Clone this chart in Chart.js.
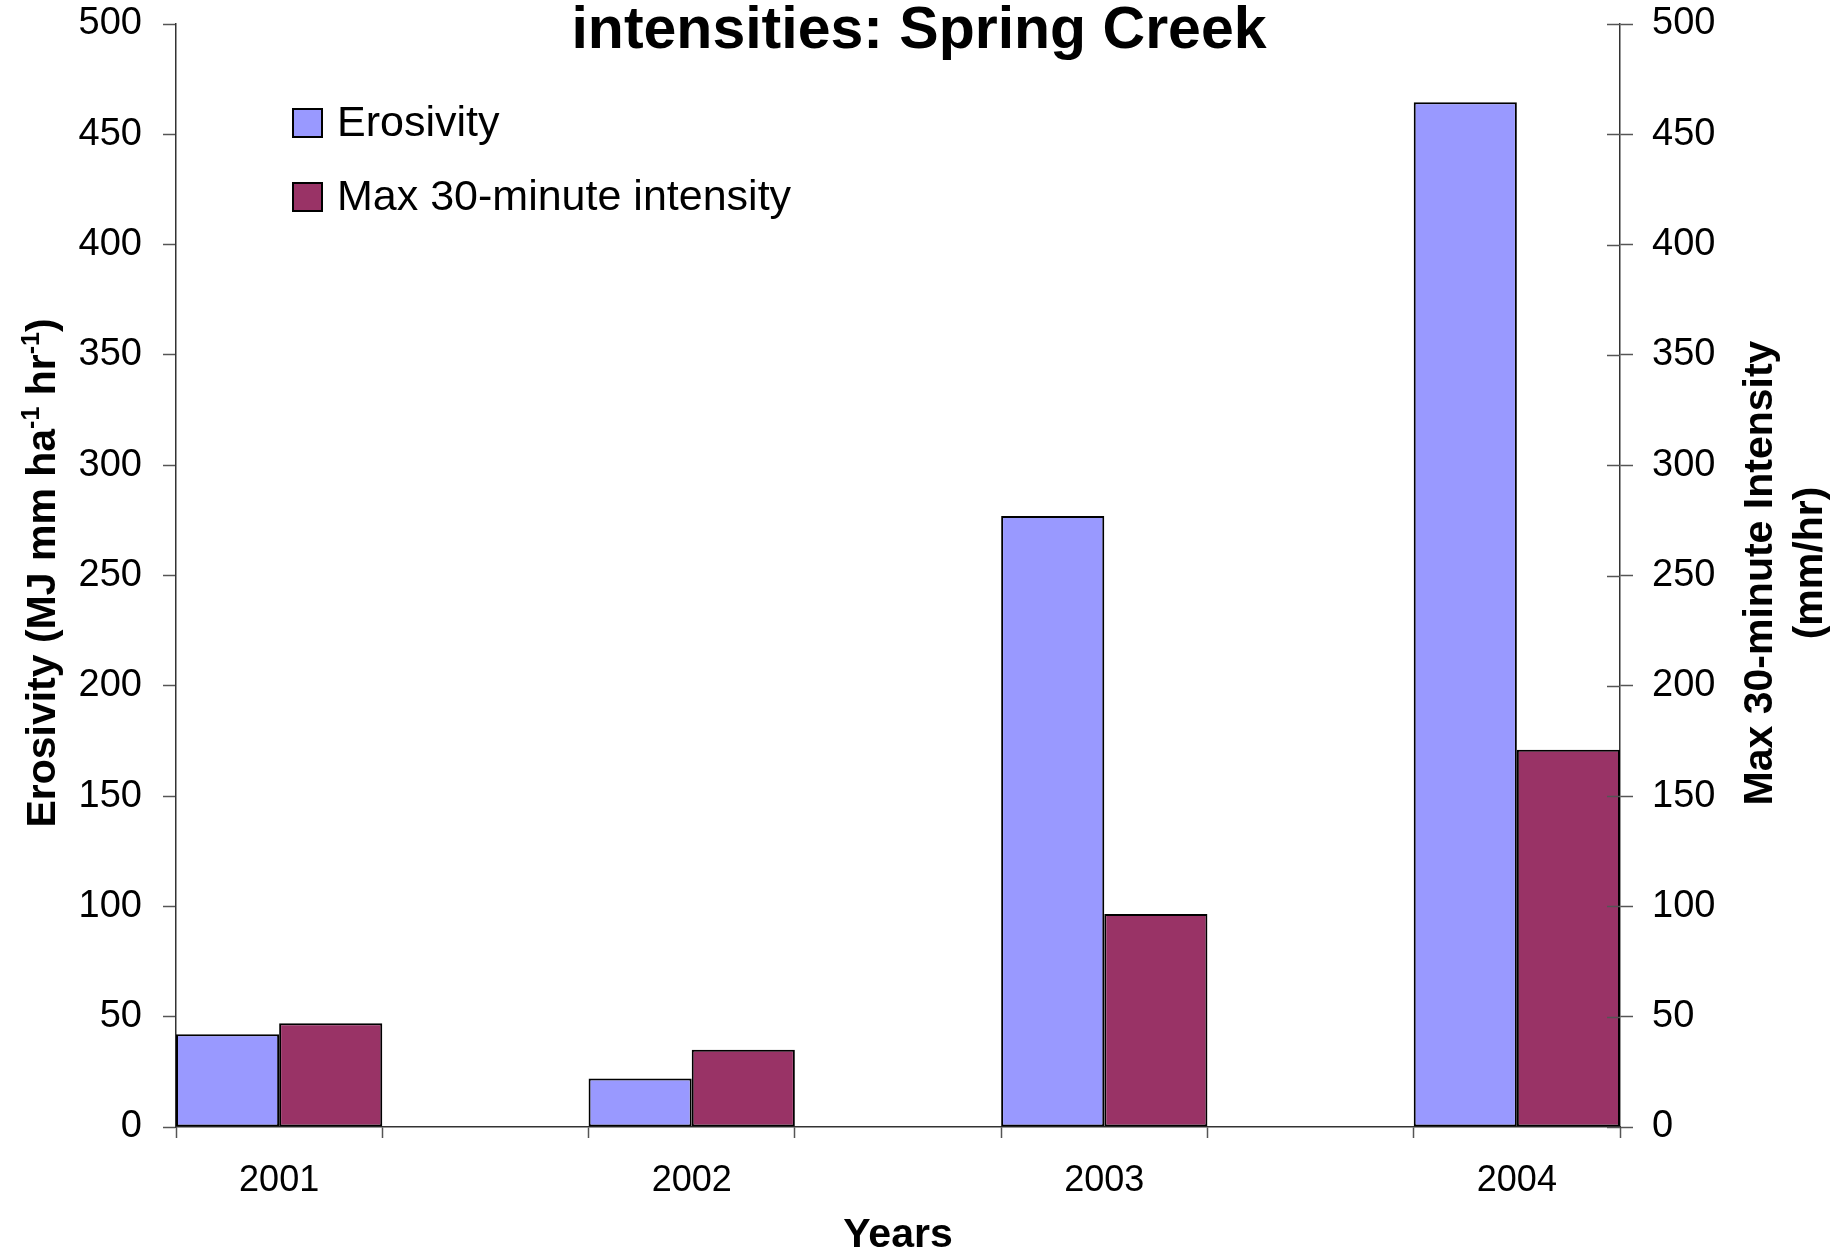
<!DOCTYPE html>
<html>
<head>
<meta charset="utf-8">
<title>Erosivity and max 30-minute intensities: Spring Creek</title>
<script src="https://cdn.jsdelivr.net/npm/chart.js@4.4.1/dist/chart.umd.min.js"></script>
<style>
    html, body { margin: 0; padding: 0; background: #ffffff; }
    #wrap { width: 1835px; height: 1252px; }
</style>
</head>
<body>
<div id="wrap"><canvas id="chart" width="1835" height="1252"></canvas></div>
<script>
// --- data ---
const years = [2001, 2002, 2003, 2004];
const erosivity = [42, 22, 277, 464.5];
const maxIntensity = [47, 35, 96.5, 171];
const yTickValues = [0, 50, 100, 150, 200, 250, 300, 350, 400, 450, 500];

const seriesLabels = ['Erosivity', 'Max 30-minute intensity'];
const seriesColors = ['#9999ff', '#993366'];

const FONT = "'Liberation Sans', Arial, Helvetica, sans-serif";
const TICK_COLOR = '#555555';
const AXIS_COLOR = '#333333';

// tick marks sit on the bar edges (year +/- a quarter), labels on the years
const xTickValues = [];
years.forEach(y => { xTickValues.push(y - 0.25, y, y + 0.25); });

function toPoints(values) {
    return years.map((y, i) => ({ x: y, y: values[i] }));
}

// left title has superscripts, so it is drawn piece by piece
function drawRotatedRich(ctx, parts, x, y, size) {
    const mainFont = `bold ${size}px ${FONT}`;
    const supFont = `bold ${Math.round(size * 0.6)}px ${FONT}`;
    ctx.save();
    ctx.translate(x, y);
    ctx.rotate(-Math.PI / 2);
    ctx.textBaseline = 'alphabetic';
    ctx.textAlign = 'left';
    let total = 0;
    parts.forEach(p => {
        ctx.font = p.sup ? supFont : mainFont;
        p.w = ctx.measureText(p.text).width;
        total += p.w;
    });
    let cx = -total / 2;
    parts.forEach(p => {
        ctx.font = p.sup ? supFont : mainFont;
        ctx.fillText(p.text, cx, p.sup ? -Math.round(size * 0.38) : 0);
        cx += p.w;
    });
    ctx.restore();
}

function drawRotated(ctx, text, x, y, font) {
    ctx.save();
    ctx.translate(x, y);
    ctx.rotate(-Math.PI / 2);
    ctx.font = font;
    ctx.textAlign = 'center';
    ctx.textBaseline = 'alphabetic';
    ctx.fillText(text, 0, 0);
    ctx.restore();
}

const decorations = {
    id: 'decorations',
    afterDraw(chart) {
        const ctx = chart.ctx;
        const area = chart.chartArea;
        const y1 = chart.scales.y1;

        ctx.save();
        ctx.fillStyle = '#000000';

        // right axis ticks cross the axis line
        ctx.strokeStyle = TICK_COLOR;
        ctx.lineWidth = 1.5;
        y1.ticks.forEach(t => {
            const py = Math.round(y1.getPixelForValue(t.value)) + 0.5;
            ctx.beginPath();
            ctx.moveTo(area.right - 13, py);
            ctx.lineTo(area.right, py);
            ctx.stroke();
        });

        // title (second line only is visible in the reference)
        ctx.font = `bold 59px ${FONT}`;
        ctx.textAlign = 'center';
        ctx.textBaseline = 'alphabetic';
        ctx.fillText('intensities: Spring Creek', 919, 48);

        // legend inside the plot
        ctx.font = `43px ${FONT}`;
        ctx.textAlign = 'left';
        ctx.textBaseline = 'middle';
        chart.data.datasets.forEach((ds, i) => {
            const cy = 123 + i * 74;
            ctx.fillStyle = ds.backgroundColor;
            ctx.fillRect(293, cy - 14, 29, 28);
            ctx.strokeStyle = '#000000';
            ctx.lineWidth = 2;
            ctx.strokeRect(293, cy - 14, 29, 28);
            ctx.fillStyle = '#000000';
            ctx.fillText(ds.label, 337, cy + 1);
        });

        // axis titles
        drawRotatedRich(ctx, [
            { text: 'Erosivity (MJ mm ha' },
            { text: '-1', sup: true },
            { text: ' hr' },
            { text: '-1', sup: true },
            { text: ')' }
        ], 55, 573, 41);

        drawRotated(ctx, 'Max 30-minute Intensity', 1772, 573, `bold 41px ${FONT}`);
        drawRotated(ctx, '(mm/hr)', 1822, 563, `bold 41px ${FONT}`);

        ctx.font = `bold 41px ${FONT}`;
        ctx.textAlign = 'center';
        ctx.textBaseline = 'middle';
        ctx.fillText('Years', 898, 1236);

        ctx.restore();
    }
};

const yAxisCommon = {
    min: 0,
    max: 500,
    afterBuildTicks: scale => { scale.ticks = yTickValues.map(v => ({ value: v })); },
    grid: { drawOnChartArea: false, drawTicks: true, tickLength: 13, tickWidth: 1.5, tickColor: TICK_COLOR },
    border: { display: true, color: AXIS_COLOR, width: 1.5 },
    ticks: { color: '#000000', font: { family: FONT, size: 38 } }
};

new Chart(document.getElementById('chart'), {
    type: 'bar',
    data: {
        datasets: [
            {
                label: seriesLabels[0],
                data: toPoints(erosivity),
                yAxisID: 'y',
                backgroundColor: seriesColors[0],
                borderColor: '#000000',
                borderWidth: 2,
                borderSkipped: false,
                barPercentage: 1,
                categoryPercentage: 2
            },
            {
                label: seriesLabels[1],
                data: toPoints(maxIntensity),
                yAxisID: 'y1',
                backgroundColor: seriesColors[1],
                borderColor: '#000000',
                borderWidth: 2,
                borderSkipped: false,
                barPercentage: 1,
                categoryPercentage: 2
            }
        ]
    },
    options: {
        responsive: false,
        animation: false,
        layout: { padding: { top: 24, left: 0, right: 0, bottom: 0 } },
        plugins: {
            legend: { display: false },
            title: { display: false },
            tooltip: { enabled: false }
        },
        scales: {
            x: {
                type: 'linear',
                offset: false,
                min: years[0] - 0.25,
                max: years[years.length - 1] + 0.25,
                afterBuildTicks: scale => { scale.ticks = xTickValues.map(v => ({ value: v })); },
                afterFit: scale => {
                    scale.height = 125;
                    scale.paddingLeft = 0;
                    scale.paddingRight = 0;
                },
                grid: {
                    offset: false,
                    drawOnChartArea: false,
                    drawTicks: true,
                    tickLength: 11,
                    tickWidth: 1.5,
                    tickColor: c => (c.tick && Number.isInteger(c.tick.value)) ? 'rgba(0,0,0,0)' : TICK_COLOR
                },
                border: { display: true, color: AXIS_COLOR, width: 1.5 },
                ticks: {
                    autoSkip: false,
                    maxRotation: 0,
                    padding: 21,
                    color: '#000000',
                    font: { family: FONT, size: 36 },
                    callback: v => Number.isInteger(v) ? String(v) : ''
                }
            },
            y: {
                ...yAxisCommon,
                position: 'left',
                afterFit: scale => {
                    scale.width = 176;
                    scale.paddingTop = 0;
                    scale.paddingBottom = 0;
                },
                ticks: { ...yAxisCommon.ticks, padding: 21 }
            },
            y1: {
                ...yAxisCommon,
                position: 'right',
                afterFit: scale => {
                    scale.width = 215;
                    scale.paddingTop = 0;
                    scale.paddingBottom = 0;
                },
                ticks: { ...yAxisCommon.ticks, padding: 19 }
            }
        }
    },
    plugins: [decorations]
});
</script>
</body>
</html>
